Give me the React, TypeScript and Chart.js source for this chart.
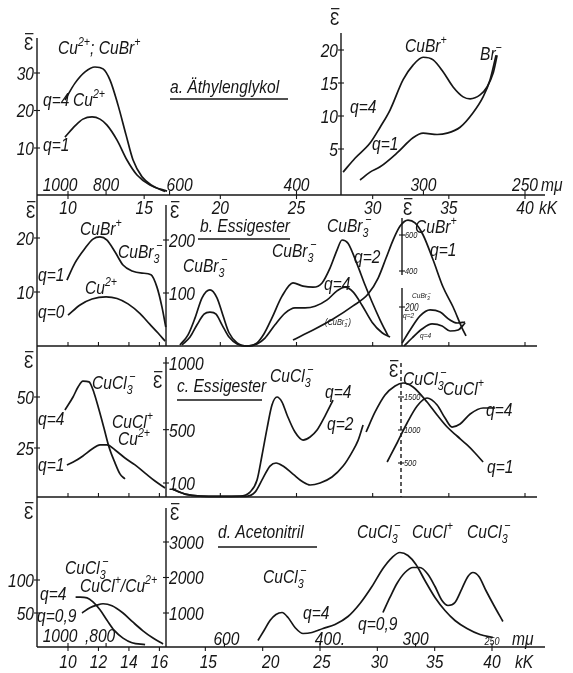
import React, { useEffect, useRef } from 'react';
import { Chart, registerables } from 'chart.js';

Chart.register(...registerables);

const W = 573;
const H = 673;

// ---------- data (x in kK, y in extinction units of each panel) ----------
// a. Äthylenglykol, left panel
const aL_q4_kK = [9.8, 10.46, 11.12, 11.77, 12.3, 12.76, 13.28, 13.81, 14.27, 14.86, 15.52, 16.37];
const aL_q4 = [22.8, 27.3, 30.3, 31.6, 31.1, 28.1, 21.5, 13.5, 6.8, 2.3, 0.0, -1.6];
const aL_q1_kK = [9.8, 10.46, 10.98, 11.58, 12.1, 12.56, 13.22, 13.87, 14.53, 15.38, 16.5];
const aL_q1 = [12.9, 15.9, 17.7, 18.3, 17.7, 16.1, 12.1, 6.8, 2.8, 0.1, -1.5];
// a. right panel
const aR_q4_kK = [28.06, 28.84, 29.83, 30.49, 31.14, 32.0, 32.65, 33.31, 33.97, 34.62, 35.28, 35.94, 36.4, 37.05, 37.51, 37.91, 38.17];
const aR_q4 = [1.5, 3.6, 5.9, 8.3, 10.9, 15.5, 17.7, 18.9, 18.5, 16.7, 14.4, 12.9, 12.6, 13.2, 14.4, 16.5, 19.2];
const aR_q1_kK = [29.17, 29.83, 30.49, 31.6, 32.65, 33.31, 34.23, 34.89, 35.74, 36.59, 37.25, 37.71, 38.1];
const aR_q1 = [0.3, 1.5, 2.3, 4.4, 6.7, 7.4, 7.2, 7.4, 8.3, 10.5, 12.9, 15.5, 19.2];

// b. Essigester, left panel
const bL_q1_kK = [9.93, 10.46, 11.12, 11.64, 12.1, 12.56, 13.09, 13.61, 14.2, 14.86, 15.45, 15.84, 16.17, 16.42];
const bL_q1 = [12.2, 15.4, 18.1, 19.8, 20.2, 19.6, 17.4, 15.0, 13.9, 13.5, 13.2, 10.9, 7.2, 3.5];
const bL_q0_kK = [10.0, 10.79, 11.58, 12.5, 13.22, 13.94, 14.73, 15.38, 15.91, 16.37];
const bL_q0 = [5.7, 7.6, 8.7, 9.1, 8.8, 7.8, 6.0, 4.0, 2.4, 0.9];
// b. middle panel
const bM_q2_kK = [17.35, 17.88, 18.34, 18.8, 19.32, 19.78, 20.18, 20.57, 21.1, 21.75, 22.41, 22.87, 23.39, 24.05, 24.77, 25.43, 26.09, 26.68, 27.2, 27.66, 27.99, 28.38, 28.97, 29.5, 29.96, 30.49, 31.01];
const bM_q2 = [2, 21, 53, 91, 106, 91, 57, 25, 6, 0, 6, 23, 53, 94, 119, 113, 111, 119, 147, 181, 200, 194, 155, 115, 83, 49, 19];
const bM_q4_kK = [17.48, 18.01, 18.47, 18.93, 19.32, 19.72, 20.11, 20.57, 21.1, 21.75, 22.41, 22.93, 23.59, 24.25, 24.9, 25.56, 26.22, 27.01, 27.66, 28.19, 28.71, 29.3, 29.96, 30.62, 31.14];
const bM_q4 = [2, 17, 40, 60, 64, 60, 40, 17, 4, 0, 4, 15, 40, 62, 72, 72, 75, 87, 104, 111, 102, 77, 45, 25, 17];
// b. right panel (CuBr+ , q=1)
const bR_q1_kK = [24.77, 26.09, 27.4, 28.71, 29.7, 30.36, 30.88, 31.34, 31.8, 32.32, 32.78, 33.31, 33.97, 34.62, 35.28, 35.87, 36.13];
const bR_q1 = [17, 72, 133, 206, 272, 361, 472, 572, 650, 683, 667, 600, 461, 311, 200, 83, 39];
// b. right inset (q=2, q=4)
const bI_q2_kK = [31.93, 32.46, 33.11, 33.77, 34.43, 35.08, 35.54, 36.07];
const bI_q2 = [15, 82, 154, 185, 174, 133, 118, 123];
const bI_q4_kK = [32.06, 32.59, 33.24, 33.9, 34.56, 35.08, 35.61, 36.07];
const bI_q4 = [0, 41, 87, 113, 103, 77, 82, 118];

// c. Essigester, left panel
const cL_q4_kK = [9.8, 10.33, 10.66, 10.98, 11.38, 11.71, 12.04, 12.36, 12.69, 13.09, 13.41, 13.74];
const cL_q4 = [43.6, 50.0, 54.9, 57.8, 57.4, 52.0, 43.6, 34.8, 25.5, 17.6, 12.3, 9.8];
const cL_q1_kK = [9.93, 10.46, 10.98, 11.58, 12.1, 12.56, 13.09, 13.74, 14.4, 15.06, 15.71, 16.37];
const cL_q1 = [16.7, 18.6, 21.1, 24.5, 26.5, 26.5, 24.0, 20.1, 16.7, 12.7, 8.8, 5.4];
// c. middle panel
const cM_q4_kK = [16.83, 17.68, 18.67, 19.98, 21.29, 21.95, 22.41, 22.74, 23.07, 23.39, 23.72, 24.05, 24.38, 24.9, 25.43, 25.89, 26.35, 26.87, 27.4];
const cM_q4 = [55, 17, 2, 0, 2, 32, 122, 310, 512, 685, 745, 707, 610, 482, 422, 445, 497, 602, 722];
const cM_q2_kK = [16.83, 17.68, 18.67, 19.98, 21.62, 22.28, 22.8, 23.26, 23.66, 24.12, 24.77, 25.43, 25.89, 26.55, 27.33, 28.06, 28.65, 29.05, 29.37];
const cM_q2 = [55, 17, 2, 0, 0, 32, 137, 227, 250, 227, 167, 107, 85, 100, 145, 227, 332, 422, 535];
// c. right panel
const cR_q1_kK = [29.57, 30.16, 30.81, 31.47, 32.0, 32.65, 33.57, 34.23, 34.89, 35.54, 36.2, 36.72, 37.25];
const cR_q1 = [970, 1273, 1530, 1667, 1712, 1652, 1424, 1227, 1045, 909, 773, 652, 515];
const cR_q4_kK = [30.95, 31.6, 32.26, 32.92, 33.57, 34.23, 34.75, 35.21, 35.74, 36.4, 37.25, 38.04];
const cR_q4 = [515, 803, 1106, 1364, 1485, 1379, 1182, 1045, 1091, 1242, 1333, 1333];

// d. Acetonitril, left panel
const dL_q4_kK = [10.5, 10.79, 11.25, 11.64, 12.1, 12.56, 13.02, 13.61, 14.2, 15.06];
const dL_q4 = [74, 74, 73, 67, 55, 39, 24, 12, 5, 2];
const dL_q09_kK = [10.92, 11.44, 11.9, 12.3, 12.89, 13.61, 14.27, 14.92, 15.58, 16.24];
const dL_q09 = [50, 58, 62, 64, 61, 50, 36, 23, 12, 3];
// d. right panel
const dR_q4_kK = [19.59, 20.12, 20.64, 21.16, 21.69, 22.21, 22.82, 23.52, 24.3, 25.26, 26.31, 27.44, 28.49, 29.53, 30.49, 31.28, 31.97, 32.67, 33.37, 34.15, 35.03, 35.9, 36.77, 37.82, 38.95, 40.08];
const dR_q4 = [225, 507, 789, 958, 1014, 873, 592, 423, 451, 563, 676, 901, 1268, 1746, 2254, 2563, 2704, 2620, 2366, 1915, 1437, 1070, 789, 563, 394, 310];
const dR_q09_kK = [30.49, 31.1, 31.71, 32.41, 33.11, 33.72, 34.42, 35.03, 35.64, 36.16, 36.77, 37.38, 37.9, 38.34, 38.86, 39.47, 40.17, 40.95];
const dR_q09 = [1014, 1437, 1831, 2141, 2282, 2282, 2085, 1746, 1352, 1211, 1296, 1690, 2028, 2141, 2028, 1634, 1211, 761];

// ---------- tick values ----------
const kKTicksTop = [10, 15, 20, 25, 30, 35, 40];
const muTicksTop = [1000, 800, 600, 400, 300, 250];
const kKTicksDLeft = [10, 12, 14, 16];
const muTicksDLeft = [1000, 800];
const muLabelsDLeft = ['1000', ',800'];
const kKTicksDRight = [15, 20, 25, 30, 35, 40];
const muTicksDRight = [600, 400, 300, 250];
const muLabelsDRight = ['600', '400.', '300', '250'];
const kKMinorTicks = [10, 12, 14, 16, 20, 25, 30, 35, 40];

const aLTicks = [10, 20, 30];
const aRTicks = [5, 10, 15, 20];
const bLTicks = [10, 20];
const bMTicks = [100, 200];
const bRTicks = [400, 600];
const bITicks = [200];
const cLTicks = [25, 50];
const cMTicks = [100, 500, 1000];
const cRTicks = [500, 1000, 1500];
const dLTicks = [50, 100];
const dRTicks = [1000, 2000, 3000];

// ---------- layout: value->pixel anchors of each scale ----------
function lin(v0: number, p0: number, v1: number, p1: number, size: number) {
  const k = (p1 - p0) / (v1 - v0);
  const a = v0 - p0 / k;
  const b = v0 + (size - p0) / k;
  return { min: Math.min(a, b), max: Math.max(a, b) };
}

const SCALES: Record<string, { min: number; max: number; horiz: boolean }> = {
  x: { ...lin(10, 68, 40, 525, W), horiz: true },
  xd: { ...lin(25, 320, 40, 492, W), horiz: true },
  ya1: { ...lin(30, 73, 10, 148, H), horiz: false },
  ya2: { ...lin(20, 50, 10, 116, H), horiz: false },
  yb1: { ...lin(20, 238, 10, 292, H), horiz: false },
  yb2: { ...lin(200, 240, 100, 293, H), horiz: false },
  yb3: { ...lin(600, 235, 0, 343, H), horiz: false },
  yb4: { ...lin(200, 307, 0, 346, H), horiz: false },
  yc1: { ...lin(50, 397, 25, 448, H), horiz: false },
  yc2: { ...lin(1000, 363, 100, 483, H), horiz: false },
  yc3: { ...lin(1500, 397, 500, 463, H), horiz: false },
  yd1: { ...lin(100, 580, 50, 613, H), horiz: false },
  yd2: { ...lin(3000, 542, 1000, 613, H), horiz: false },
};

const FONT = '"Liberation Sans", "DejaVu Sans", Arial, sans-serif';
const INK = '#161616';
const SX = 0.82;

// axis frame lines [x1,y1,x2,y2,dashed]
const FRAME: [number, number, number, number, boolean?][] = [
  [37, 38, 37, 647],
  [341, 33, 341, 195],
  [166, 205, 166, 346],
  [402, 218, 402, 275],
  [402, 288, 402, 346],
  [166, 357, 166, 497],
  [401, 363, 401, 497, true],
  [166, 508, 166, 647],
  [37, 195, 545, 195],
  [37, 346, 537, 346],
  [37, 497, 537, 497],
  [37, 647, 545, 647],
];

const Y_TICKS = [
  { id: 'ya1', x: 37, vals: aLTicks, side: 'left', size: 19 },
  { id: 'ya2', x: 341, vals: aRTicks, side: 'left', size: 19 },
  { id: 'yb1', x: 37, vals: bLTicks, side: 'left', size: 19 },
  { id: 'yb2', x: 166, vals: bMTicks, side: 'right', size: 19 },
  { id: 'yb3', x: 402, vals: bRTicks, side: 'right', size: 9 },
  { id: 'yb4', x: 402, vals: bITicks, side: 'right', size: 10 },
  { id: 'yc1', x: 37, vals: cLTicks, side: 'left', size: 19 },
  { id: 'yc2', x: 166, vals: cMTicks, side: 'right', size: 19 },
  { id: 'yc3', x: 401, vals: cRTicks, side: 'right', size: 9 },
  { id: 'yd1', x: 37, vals: dLTicks, side: 'left', size: 19 },
  { id: 'yd2', x: 166, vals: dRTicks, side: 'right', size: 19 },
];

type XT = { id: string; y: number; vals: number[]; labels: string[] | null; dx?: number[]; base: number; dir: number; size: number };
const X_TICKS: XT[] = [
  { id: 'x', y: 195, vals: kKTicksTop, labels: kKTicksTop.map(String), base: 214, dir: 1, size: 19 },
  { id: 'x', y: 195, vals: muTicksTop.map((m) => 1e4 / m), labels: muTicksTop.map(String), dx: [-8, 0, 10, 0, 0, 0], base: 191, dir: -1, size: 19 },
  { id: 'x', y: 346, vals: kKMinorTicks, labels: null, base: 0, dir: -1, size: 0 },
  { id: 'x', y: 497, vals: kKMinorTicks, labels: null, base: 0, dir: -1, size: 0 },
  { id: 'x', y: 647, vals: kKTicksDLeft, labels: kKTicksDLeft.map(String), base: 668, dir: 1, size: 19 },
  { id: 'x', y: 647, vals: muTicksDLeft.map((m) => 1e4 / m), labels: muLabelsDLeft, dx: [-8, -6], base: 642, dir: -1, size: 19 },
  { id: 'xd', y: 647, vals: kKTicksDRight, labels: kKTicksDRight.map(String), dx: [3, 8, 2, 2, 0, 0], base: 668, dir: 1, size: 19 },
  { id: 'xd', y: 647, vals: muTicksDRight.slice(0, 3).map((m) => 1e4 / m), labels: muLabelsDRight.slice(0, 3), dx: [2, 10, 0], base: 645, dir: -1, size: 19 },
  { id: 'xd', y: 647, vals: muTicksDRight.slice(3).map((m) => 1e4 / m), labels: muLabelsDRight.slice(3), base: 645, dir: -1, size: 11 },
];

// text annotations: [text, x, baseline, size?]
const LABELS: [string, number, number, number?][] = [
  ['Cu^{2+}; CuBr^{+}', 58, 54],
  ['a. Äthylenglykol', 170, 93],
  ['q=4', 43, 106],
  ['Cu^{2+}', 73, 106],
  ['q=1', 43, 151],
  ['CuBr^+', 405, 52],
  ['Br^-', 480, 60],
  ['q=4', 350, 113],
  ['q=1', 372, 150],
  ['mμ', 541, 191],
  ['kK', 539, 214],
  ['CuBr^+', 80, 235],
  ['CuBr_3^-', 118, 258],
  ['q=1', 38, 281],
  ['Cu^{2+}', 85, 294],
  ['q=0', 38, 318],
  ['b. Essigester', 200, 232],
  ['CuBr_3^-', 183, 272],
  ['CuBr_3^-', 272, 257],
  ['CuBr_3^-', 327, 232],
  ['q=2', 354, 263],
  ['q=4', 324, 290],
  ['(CuBr_3^-)', 325, 325, 9],
  ['CuBr^+', 415, 233],
  ['q=1', 430, 256],
  ['CuBr_3^-', 412, 298, 8],
  ['q=2', 403, 318, 8],
  ['q=4', 420, 338, 8],
  ['CuCl_3^-', 92, 389],
  ['q=4', 38, 425],
  ['CuCl^+', 112, 428],
  ['Cu^{2+}', 118, 445],
  ['q=1', 38, 471],
  ['c. Essigester', 177, 392],
  ['CuCl_3^-', 270, 382],
  ['q=4', 325, 398],
  ['q=2', 327, 430],
  ['CuCl_3^-', 403, 385],
  ['CuCl^+', 443, 395],
  ['q=4', 486, 416],
  ['q=1', 487, 473],
  ['CuCl_3^-', 65, 574],
  ['CuCl^+/Cu^{2+}', 80, 592],
  ['q=4', 40, 600],
  ['q=0,9', 37, 622],
  ['d. Acetonitril', 218, 538],
  ['CuCl_3^-', 263, 583],
  ['CuCl_3^-', 357, 538],
  ['CuCl^+', 412, 538],
  ['CuCl_3^-', 467, 538],
  ['q=4', 303, 619],
  ['q=0,9', 358, 630],
  ['mμ', 512, 645],
  ['kK', 515, 668],
];

const UNDERLINES: [number, number, number][] = [
  [170, 288, 99],
  [198, 290, 239],
  [177, 262, 400],
  [218, 317, 547],
];

const EPS: [number, number][] = [
  [24, 50], [330, 25], [26, 218], [170, 218], [403, 215],
  [24, 368], [153, 388], [389, 377], [24, 519], [170, 520],
];

// ---------- text helpers ----------
type Seg = { t: string; m: 'n' | 'sup' | 'sub' };
function parseRich(s: string): Seg[] {
  const out: Seg[] = [];
  let buf = '';
  let i = 0;
  while (i < s.length) {
    const c = s[i];
    if (c === '^' || c === '_') {
      if (buf) { out.push({ t: buf, m: 'n' }); buf = ''; }
      let t = '';
      if (s[i + 1] === '{') {
        const j = s.indexOf('}', i + 2);
        t = s.slice(i + 2, j);
        i = j + 1;
      } else {
        t = s[i + 1];
        i += 2;
      }
      out.push({ t: t.replace(/-/g, '\u2212'), m: c === '^' ? 'sup' : 'sub' });
    } else {
      buf += c;
      i++;
    }
  }
  if (buf) out.push({ t: buf, m: 'n' });
  return out;
}

function rich(ctx: CanvasRenderingContext2D, s: string, x: number, y: number, size: number, align: 'left' | 'center' | 'right' = 'left') {
  const segs = parseRich(s);
  ctx.save();
  ctx.translate(x, y);
  ctx.scale(SX, 1);
  ctx.fillStyle = INK;
  ctx.textBaseline = 'alphabetic';
  ctx.textAlign = 'left';
  const items: { t: string; fs: number; x: number; dy: number }[] = [];
  let cur = 0;
  let prevStart = 0;
  let prevW = 0;
  let prevMode = 'n';
  for (const seg of segs) {
    const fs = seg.m === 'n' ? size : Math.max(6, Math.round(size * 0.68));
    ctx.font = `italic ${fs}px ${FONT}`;
    const w = ctx.measureText(seg.t).width;
    const dy = seg.m === 'sup' ? -size * 0.42 : seg.m === 'sub' ? size * 0.24 : 0;
    let sx0 = cur;
    if (seg.m === 'sup' && prevMode === 'sub') {
      sx0 = prevStart + prevW * 0.45;
      cur = Math.max(prevStart + prevW, sx0 + w);
    } else {
      cur += w;
    }
    items.push({ t: seg.t, fs, x: sx0, dy });
    prevStart = sx0;
    prevW = w;
    prevMode = seg.m;
  }
  const off = align === 'right' ? -cur : align === 'center' ? -cur / 2 : 0;
  for (const it of items) {
    ctx.font = `italic ${it.fs}px ${FONT}`;
    ctx.fillText(it.t, it.x + off, it.dy);
  }
  ctx.restore();
}

function epsBar(ctx: CanvasRenderingContext2D, x: number, y: number, size = 19) {
  ctx.save();
  ctx.translate(x, y);
  ctx.scale(SX, 1);
  ctx.font = `${size}px ${FONT}`;
  ctx.fillStyle = INK;
  ctx.fillText('Ɛ', 0, 0);
  const w = ctx.measureText('Ɛ').width;
  ctx.restore();
  ctx.save();
  ctx.strokeStyle = INK;
  ctx.lineWidth = 1.2;
  ctx.beginPath();
  ctx.moveTo(x + 1, y - size * 0.86);
  ctx.lineTo(x + w * SX, y - size * 0.86);
  ctx.stroke();
  ctx.restore();
}

const figurePlugin = {
  id: 'figureFrame',
  beforeDraw(chart: any) {
    const ctx = chart.ctx;
    ctx.save();
    ctx.fillStyle = '#ffffff';
    ctx.fillRect(0, 0, chart.width, chart.height);
    ctx.restore();
  },
  beforeDatasetsDraw(chart: any) {
    const ctx: CanvasRenderingContext2D = chart.ctx;
    ctx.save();
    ctx.strokeStyle = INK;
    ctx.lineWidth = 1.4;
    for (const [x1, y1, x2, y2, dashed] of FRAME) {
      ctx.setLineDash(dashed ? [4, 3] : []);
      ctx.beginPath();
      ctx.moveTo(x1, y1);
      ctx.lineTo(x2, y2);
      ctx.stroke();
    }
    ctx.setLineDash([]);
    ctx.lineWidth = 1.1;
    for (const t of Y_TICKS) {
      const sc = chart.scales[t.id];
      for (const v of t.vals) {
        const py = sc.getPixelForValue(v);
        ctx.beginPath();
        ctx.moveTo(t.x - 3, py);
        ctx.lineTo(t.x + 3, py);
        ctx.stroke();
      }
    }
    for (const t of X_TICKS) {
      const sc = chart.scales[t.id];
      for (const v of t.vals) {
        const px = sc.getPixelForValue(v);
        ctx.beginPath();
        ctx.moveTo(px, t.y);
        ctx.lineTo(px, t.y + 4 * t.dir);
        ctx.stroke();
      }
    }
    ctx.restore();
  },
  afterDatasetsDraw(chart: any) {
    const ctx: CanvasRenderingContext2D = chart.ctx;
    for (const t of Y_TICKS) {
      const sc = chart.scales[t.id];
      for (const v of t.vals) {
        const py = sc.getPixelForValue(v) + t.size * 0.36;
        if (t.side === 'left') rich(ctx, String(v), t.x - 3, py, t.size, 'right');
        else rich(ctx, String(v), t.x + 3, py, t.size, 'left');
      }
    }
    for (const t of X_TICKS) {
      if (!t.labels) continue;
      const sc = chart.scales[t.id];
      t.vals.forEach((v, i) => {
        const dx = t.dx ? t.dx[i] : 0;
        rich(ctx, t.labels![i], sc.getPixelForValue(v) + dx, t.base, t.size, 'center');
      });
    }
    for (const [s, x, y, size] of LABELS) rich(ctx, s, x, y, size ?? 19);
    for (const [x, y] of EPS) epsBar(ctx, x, y);
    ctx.save();
    ctx.strokeStyle = INK;
    ctx.lineWidth = 1.3;
    for (const [x1, x2, y] of UNDERLINES) {
      ctx.beginPath();
      ctx.moveTo(x1, y);
      ctx.lineTo(x2, y);
      ctx.stroke();
    }
    ctx.restore();
  },
};

function ds(label: string, kk: number[], v: number[], xAxisID: string, yAxisID: string) {
  return {
    label,
    data: kk.map((x, i) => ({ x, y: v[i] })),
    xAxisID,
    yAxisID,
    borderColor: INK,
    borderWidth: 1.7,
    pointRadius: 0,
    fill: false,
    cubicInterpolationMode: 'monotone' as const,
  };
}

export default function App() {
  const ref = useRef<HTMLCanvasElement>(null);
  useEffect(() => {
    const canvas = ref.current;
    if (!canvas) return;
    const scales: any = {};
    for (const [id, s] of Object.entries(SCALES)) {
      scales[id] = {
        type: 'linear',
        display: false,
        min: s.min,
        max: s.max,
        bounds: 'data',
        axis: s.horiz ? 'x' : 'y',
        position: s.horiz ? 'bottom' : 'left',
      };
    }
    const chart = new Chart(canvas, {
      type: 'line',
      data: {
        datasets: [
          ds('a q=4', aL_q4_kK, aL_q4, 'x', 'ya1'),
          ds('a q=1', aL_q1_kK, aL_q1, 'x', 'ya1'),
          ds('a r q=4', aR_q4_kK, aR_q4, 'x', 'ya2'),
          ds('a r q=1', aR_q1_kK, aR_q1, 'x', 'ya2'),
          ds('b q=1', bL_q1_kK, bL_q1, 'x', 'yb1'),
          ds('b q=0', bL_q0_kK, bL_q0, 'x', 'yb1'),
          ds('b m q=2', bM_q2_kK, bM_q2, 'x', 'yb2'),
          ds('b m q=4', bM_q4_kK, bM_q4, 'x', 'yb2'),
          ds('b r q=1', bR_q1_kK, bR_q1, 'x', 'yb3'),
          ds('b i q=2', bI_q2_kK, bI_q2, 'x', 'yb4'),
          ds('b i q=4', bI_q4_kK, bI_q4, 'x', 'yb4'),
          ds('c q=4', cL_q4_kK, cL_q4, 'x', 'yc1'),
          ds('c q=1', cL_q1_kK, cL_q1, 'x', 'yc1'),
          ds('c m q=4', cM_q4_kK, cM_q4, 'x', 'yc2'),
          ds('c m q=2', cM_q2_kK, cM_q2, 'x', 'yc2'),
          ds('c r q=1', cR_q1_kK, cR_q1, 'x', 'yc3'),
          ds('c r q=4', cR_q4_kK, cR_q4, 'x', 'yc3'),
          ds('d q=4', dL_q4_kK, dL_q4, 'x', 'yd1'),
          ds('d q=0,9', dL_q09_kK, dL_q09, 'x', 'yd1'),
          ds('d r q=4', dR_q4_kK, dR_q4, 'xd', 'yd2'),
          ds('d r q=0,9', dR_q09_kK, dR_q09, 'xd', 'yd2'),
        ],
      },
      options: {
        responsive: false,
        maintainAspectRatio: false,
        animation: false,
        devicePixelRatio: 1,
        layout: { padding: 0 },
        events: [],
        plugins: { legend: { display: false }, tooltip: { enabled: false }, title: { display: false } },
        scales,
      },
      plugins: [figurePlugin],
    } as any);
    return () => chart.destroy();
  }, []);
  return (
    <div style={{ position: 'fixed', left: 0, top: 0, width: W, height: H, background: '#fff' }}>
      <canvas ref={ref} width={W} height={H} style={{ width: W, height: H, display: 'block' }} />
    </div>
  );
}
